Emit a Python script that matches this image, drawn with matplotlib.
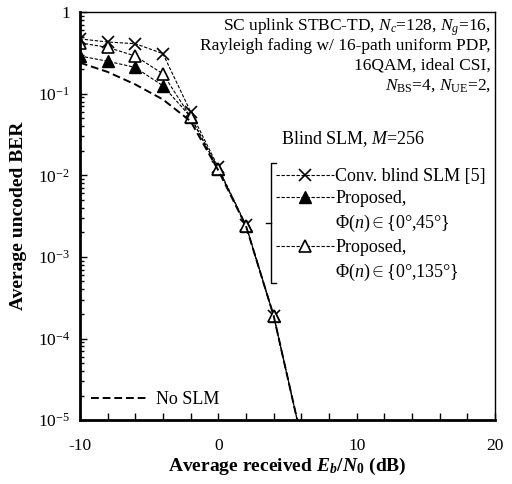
import matplotlib
matplotlib.use("Agg")
from matplotlib import pyplot as plt
from matplotlib.lines import Line2D

plt.rcParams["font.family"] = ["Liberation Serif", "DejaVu Serif"]
plt.rcParams["mathtext.fontset"] = "custom"
plt.rcParams["mathtext.rm"] = "Liberation Serif"
plt.rcParams["mathtext.it"] = "Liberation Serif:italic"
plt.rcParams["mathtext.bf"] = "Liberation Serif:bold"
plt.rcParams["mathtext.bfit"] = "Liberation Serif:bold:italic"
plt.rcParams["axes.unicode_minus"] = False

# Eb/N0 (dB)
snr = [-10, -8, -6, -4, -2, 0, 2, 4, 6]
ber_conv = [0.47, 0.43, 0.41, 0.31, 0.060, 0.0125, 0.00245, 1.9e-4, 6e-6]
ber_p45 = [0.29, 0.25, 0.21, 0.125, 0.052, 0.0120, 0.00240, 1.9e-4, 6e-6]
ber_p135 = [0.42, 0.37, 0.29, 0.175, 0.052, 0.0120, 0.00240, 1.9e-4, 6e-6]
ber_noslm = [0.24, 0.185, 0.13, 0.085, 0.046, 0.0115, 0.00240, 1.9e-4, 6e-6]

yticks = [1e-5, 1e-4, 1e-3, 1e-2, 1e-1, 1]
ylabels = ["10$^{-5}$", "10$^{-4}$", "10$^{-3}$", "10$^{-2}$", "10$^{-1}$", "1"]

info_lines = ["SC uplink STBC-TD, $N_c$=128, $N_g$=16,",
              "Rayleigh fading w/ 16-path uniform PDP,",
              "16QAM, ideal CSI,",
              r"$N_\mathrm{BS}$=4, $N_\mathrm{UE}$=2,"]

fig = plt.figure(figsize=(5.12, 4.84), dpi=100)
ax = fig.add_axes([0.156, 0.132, 0.811, 0.843])

dash = (0, (3, 1.5))
l_conv, = ax.plot(snr, ber_conv, color="k", lw=0.8, ls=dash, marker="x",
                  ms=9, mew=1.2)
l_p45, = ax.plot(snr, ber_p45, color="k", lw=0.8, ls=dash, marker="^",
                 ms=9, mfc="k")
l_p135, = ax.plot(snr, ber_p135, color="k", lw=0.8, ls=dash, marker="^",
                  ms=9, mfc="white", mew=1.2)
l_no, = ax.plot(snr, ber_noslm, color="k", lw=1.4, ls=(0, (4, 2)))

ax.set_yscale("log")
ax.set_xlim(-10, 20)
ax.set_ylim(1e-5, 1)
ax.set_xticks([-10, 0, 10, 20])
ax.set_xticks(range(-10, 21, 2), minor=True)
ax.set_yticks(yticks)
ax.set_yticklabels(ylabels)
ax.tick_params(which="both", direction="in", labelsize=12.5, top=False, right=False)
ax.tick_params(which="both", length=5, width=1)
ax.tick_params(axis="y", which="minor", length=3)
ax.tick_params(axis="x", which="both", pad=13)
ax.tick_params(axis="y", which="both", pad=7)
ax.spines["left"].set_linewidth(2)
ax.spines["bottom"].set_linewidth(2)
ax.spines["top"].set_linewidth(1)
ax.spines["right"].set_linewidth(1)

ax.set_xlabel(r"Average received $\mathbfit{E}_\mathbfit{b}$/$\mathbfit{N}_\mathbf{0}$ (dB)",
              fontsize=14, fontweight="bold", labelpad=1)
ax.set_ylabel("Average uncoded BER", fontsize=14, fontweight="bold", labelpad=8)

for i, line in enumerate(info_lines):
    ax.text(0.99, 0.955 - i * 0.048, line, transform=ax.transAxes,
            ha="right", va="baseline", fontsize=12.5)

ax.text(0.484, 0.689, "Blind SLM, $M$=256", transform=ax.transAxes,
        ha="left", va="center", fontsize=13)

blank = Line2D([], [], ls="none")
leg = ax.legend([l_conv, l_p45, blank, l_p135, blank],
                ["Conv. blind SLM [5]", "Proposed,", r"Φ($n$)$\in${0°,45°}",
                 "Proposed,", r"Φ($n$)$\in${0°,135°}"],
                loc="upper left", bbox_to_anchor=(0.472, 0.618), frameon=False,
                fontsize=13, handlelength=3.2, handletextpad=0.1,
                labelspacing=0.3, borderpad=0, borderaxespad=0)
ax.add_artist(leg)

# bracket grouping the blind SLM curves
bx = [0.472, 0.460, 0.460, 0.472]
by = [0.630, 0.630, 0.336, 0.336]
ax.add_line(Line2D(bx, by, color="k", lw=1, transform=ax.transAxes, clip_on=False))
ax.add_line(Line2D([0.448, 0.460], [0.483, 0.483], color="k", lw=1,
                   transform=ax.transAxes, clip_on=False))

ax.legend([l_no], ["No SLM"], loc="lower left", bbox_to_anchor=(0.028, 0.03),
          frameon=False, fontsize=13, handlelength=3.1, handletextpad=0.45,
          borderpad=0, borderaxespad=0)

fig.savefig("out.png", dpi=100)
